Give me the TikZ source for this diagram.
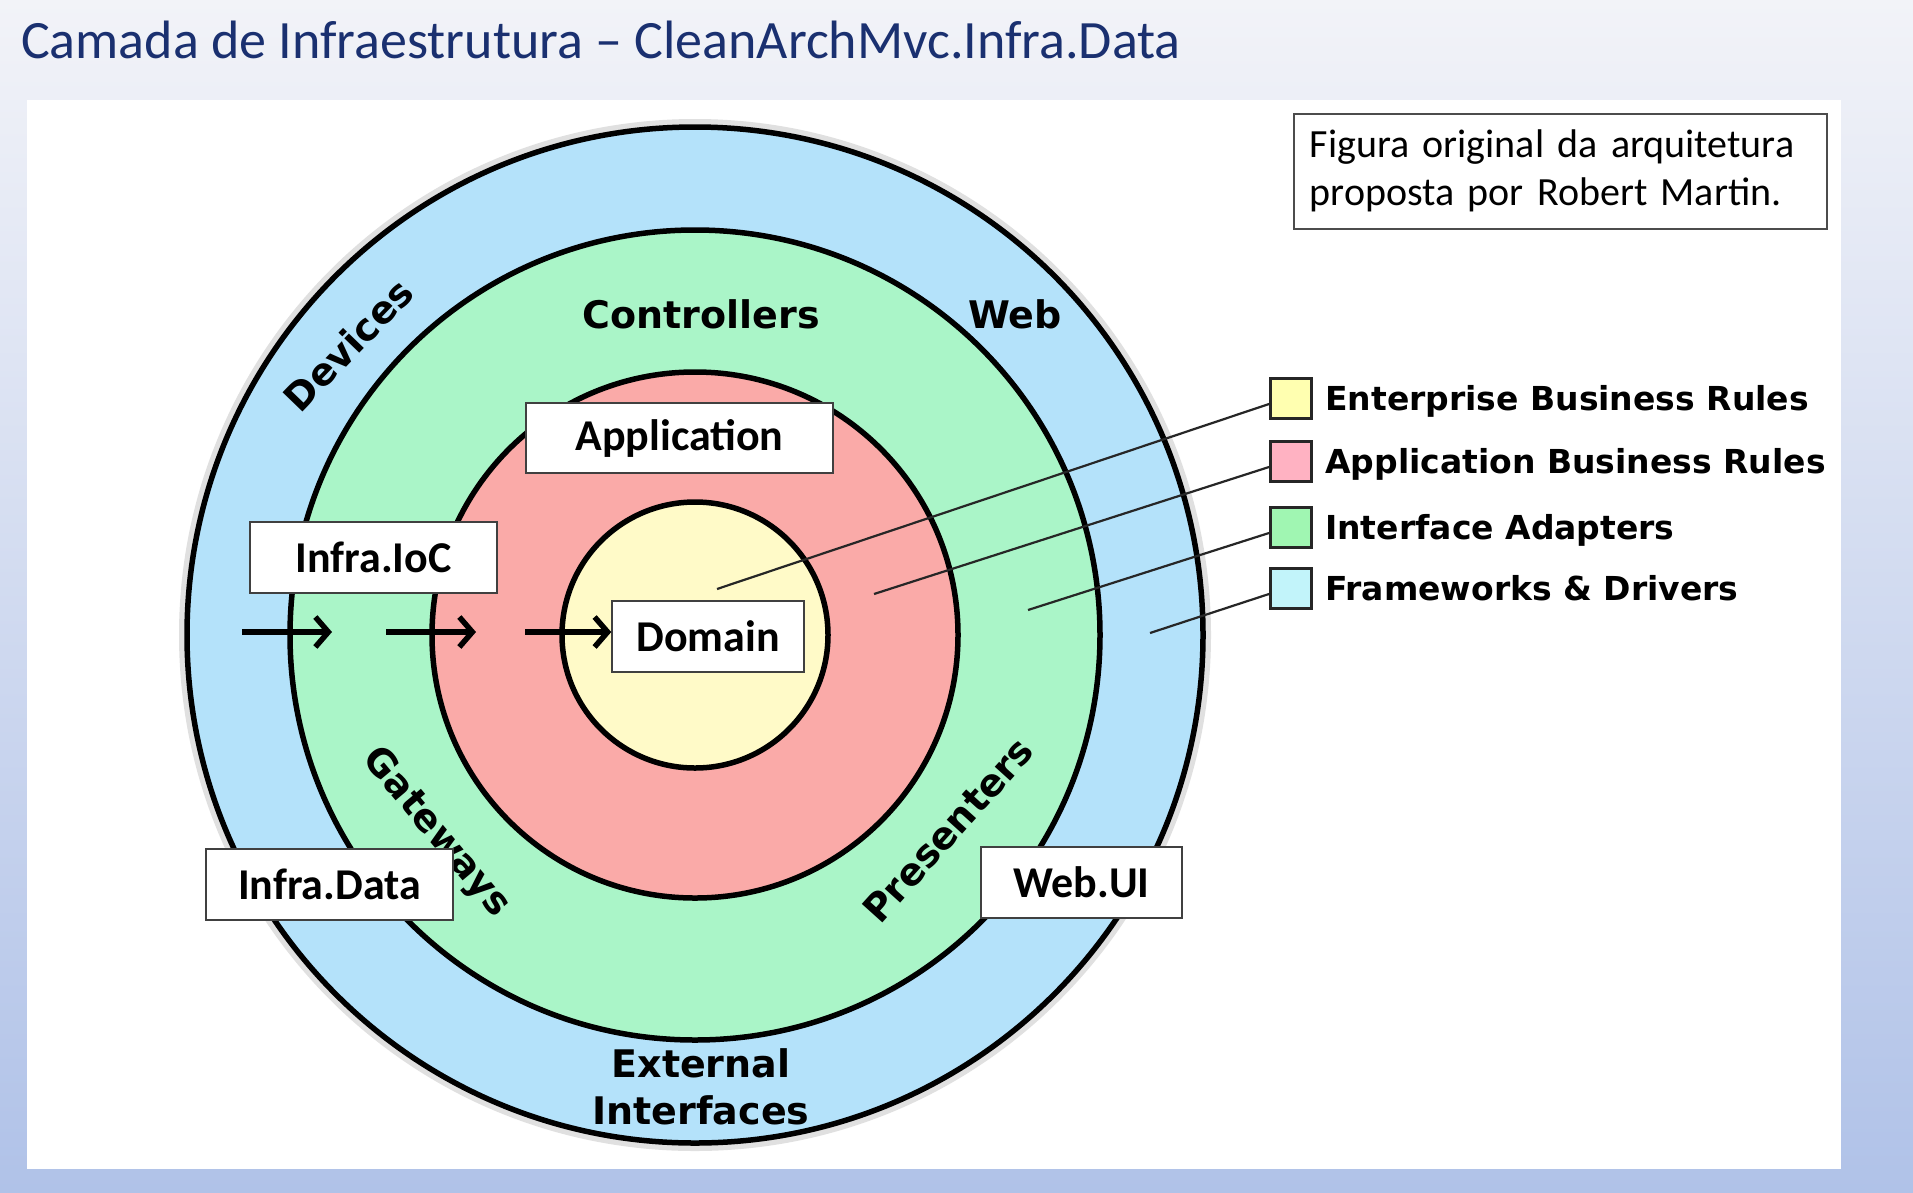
\documentclass[tikz,border=0pt]{standalone}
\usepackage{fontspec}
\setmainfont{Carlito}
\newfontfamily\dvs{DejaVu Sans}
\usetikzlibrary{arrows.meta}
\definecolor{ringblue}{RGB}{180,226,250}
\definecolor{ringgreen}{RGB}{170,245,200}
\definecolor{ringred}{RGB}{250,170,168}
\definecolor{ringyellow}{RGB}{255,250,200}
\definecolor{legyellow}{RGB}{255,255,176}
\definecolor{legpink}{RGB}{255,178,194}
\definecolor{leggreen}{RGB}{160,246,178}
\definecolor{legblue}{RGB}{194,244,250}
\definecolor{titleblue}{RGB}{26,48,112}
\definecolor{bgtop}{RGB}{242,243,248}
\definecolor{bgbot}{RGB}{176,194,232}
\begin{document}
\begin{tikzpicture}[x=1pt,y=-1pt,
  ring/.style={draw=black,line width=5.5pt},
  tag/.style={draw=black!75,line width=1.5pt,fill=white,inner sep=0pt,
    font=\fontsize{44}{52}\selectfont\bfseries},
  ringlabel/.style={font=\dvs\bfseries\fontsize{38}{46}\selectfont,inner sep=0pt},
  legsq/.style={draw=black!85,line width=3pt,minimum width=41pt,minimum height=40pt,inner sep=0pt},
  legtext/.style={anchor=base west,font=\dvs\bfseries\fontsize{33}{40}\selectfont,inner sep=0pt},
  leader/.style={line width=2.2pt,draw=black!85},
  flow/.style={line width=6pt,-{Straight Barb[length=13pt,width=30pt,line width=5.5pt]}}]
\useasboundingbox (0,0) rectangle (1913,1192);
% slide background and panel
\shade[top color=bgtop,bottom color=bgbot] (0,0) rectangle (1913,1192);
\fill[white] (27,100) rectangle (1841,1169);
% title
\node[anchor=west,text=titleblue,font=\fontsize{54}{64}\selectfont,inner sep=0pt] (title) at (21,40)
  {Camada de Infraestrutura – CleanArchMvc.Infra.Data};
% rings
\coordinate (O) at (695,635);
\draw[black!12,line width=12pt] (O) circle[radius=510];
\draw[ring,fill=ringblue] (O) circle[radius=508];
\draw[ring,fill=ringgreen] (O) circle[radius=405];
\draw[ring,fill=ringred] (O) circle[radius=263];
\draw[ring,fill=ringyellow] (O) circle[radius=133];
% ring labels
\node[ringlabel] (ctrl) at (701,314) {Controllers};
\node[ringlabel] (web) at (1015,314) {Web};
\node[ringlabel,rotate=46] (dev) at (348,345) {Devices};
\node[ringlabel,rotate=-50] (gw) at (436,833) {Gateways};
\node[ringlabel,rotate=48] (pres) at (948,830) {Presenters};
\node[ringlabel,align=center,font=\dvs\bfseries\fontsize{38}{47}\selectfont] (ext) at (701,1087) {External\\Interfaces};
% note box
\node[draw=black!70,line width=1.5pt,fill=white,anchor=north west,text width=501pt,align=left,
  inner xsep=16pt,inner ysep=0pt,minimum height=115pt,font=\fontsize{40}{48}\selectfont] (note) at (1293,113)
  {Figura original da arquitetura\\proposta por Robert Martin.};
% legend
\node[legsq,fill=legyellow] (lgY) at (1291,398) {};
\node[legsq,fill=legpink] (lgP) at (1291,461) {};
\node[legsq,fill=leggreen] (lgG) at (1291,527) {};
\node[legsq,fill=legblue] (lgB) at (1291,588) {};
\node[legtext] (tY) at (1325,410) {Enterprise Business Rules};
\node[legtext] (tP) at (1325,473) {Application Business Rules};
\node[legtext] (tG) at (1325,539) {Interface Adapters};
\node[legtext] (tB) at (1325,600) {Frameworks \& Drivers};
\coordinate (eY) at (717,589);
\coordinate (eP) at (874,594);
\coordinate (eG) at (1028,610);
\coordinate (eB) at (1150,633);
\draw[leader] ([yshift=-6pt]lgY.west) -- (eY);
\draw[leader] ([yshift=-6pt]lgP.west) -- (eP);
\draw[leader] ([yshift=-6pt]lgG.west) -- (eG);
\draw[leader] ([yshift=-6pt]lgB.west) -- (eB);
% boxes
\node[tag,minimum width=307pt,minimum height=70pt] (app) at (679.5,438) {Application};
\node[tag,minimum width=247pt,minimum height=71pt] (ioc) at (373.5,557.5) {Infra.IoC};
\node[tag,minimum width=192pt,minimum height=71pt] (dom) at (708,636.5) {Domain};
\node[tag,minimum width=247pt,minimum height=71pt] (data) at (329.5,884.5) {Infra.Data};
\node[tag,minimum width=201pt,minimum height=71pt] (webui) at (1081.5,882.5) {Web.UI};
% arrows
\coordinate (a1s) at (242,632);
\coordinate (a1e) at (332,632);
\coordinate (a2s) at (386,632);
\coordinate (a2e) at (476,632);
\coordinate (a3s) at (525,632);
\draw[flow] (a1s) -- (a1e);
\draw[flow] (a2s) -- (a2e);
\draw[flow] (a3s) -- (a3s -| dom.west);
\end{tikzpicture}
\end{document}
